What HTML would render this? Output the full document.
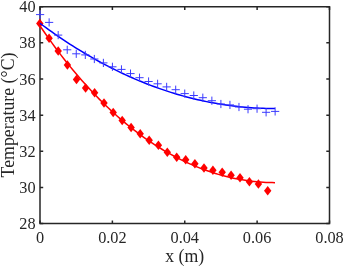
<!DOCTYPE html>
<html><head><meta charset="utf-8"><style>
html,body{margin:0;padding:0;background:#fff;width:344px;height:267px;overflow:hidden}
svg{display:block;will-change:transform}
text{font-family:"Liberation Serif",serif;fill:#262626}
</style></head><body>
<svg width="344" height="267" viewBox="0 0 344 267">
<rect width="344" height="267" fill="#fff"/>
<g stroke="#262626" stroke-width="1.5" fill="none">
<path d="M40.0,6.7 H329.5 V223.6 H40.0 Z"/>
<path d="M40.00,223.6 V220.40 M40.00,6.7 V9.90"/><path d="M112.38,223.6 V220.40 M112.38,6.7 V9.90"/><path d="M184.75,223.6 V220.40 M184.75,6.7 V9.90"/><path d="M257.12,223.6 V220.40 M257.12,6.7 V9.90"/><path d="M329.50,223.6 V220.40 M329.50,6.7 V9.90"/><path d="M40.0,223.60 H43.20 M329.5,223.60 H326.30"/><path d="M40.0,187.45 H43.20 M329.5,187.45 H326.30"/><path d="M40.0,151.30 H43.20 M329.5,151.30 H326.30"/><path d="M40.0,115.15 H43.20 M329.5,115.15 H326.30"/><path d="M40.0,79.00 H43.20 M329.5,79.00 H326.30"/><path d="M40.0,42.85 H43.20 M329.5,42.85 H326.30"/><path d="M40.0,6.70 H43.20 M329.5,6.70 H326.30"/>
</g>
<g fill="#f00" stroke="none"><path d="M39.80,18.65 L43.50,23.40 L39.80,28.15 L36.10,23.40Z"/><path d="M49.10,33.55 L52.80,38.30 L49.10,43.05 L45.40,38.30Z"/><path d="M58.20,46.25 L61.90,51.00 L58.20,55.75 L54.50,51.00Z"/><path d="M67.40,60.15 L71.10,64.90 L67.40,69.65 L63.70,64.90Z"/><path d="M76.50,74.85 L80.20,79.60 L76.50,84.35 L72.80,79.60Z"/><path d="M85.60,83.25 L89.30,88.00 L85.60,92.75 L81.90,88.00Z"/><path d="M94.60,88.10 L98.30,92.85 L94.60,97.60 L90.90,92.85Z"/><path d="M104.00,98.30 L107.70,103.05 L104.00,107.80 L100.30,103.05Z"/><path d="M113.20,107.70 L116.90,112.45 L113.20,117.20 L109.50,112.45Z"/><path d="M122.20,115.70 L125.90,120.45 L122.20,125.20 L118.50,120.45Z"/><path d="M131.10,122.80 L134.80,127.55 L131.10,132.30 L127.40,127.55Z"/><path d="M140.20,128.90 L143.90,133.65 L140.20,138.40 L136.50,133.65Z"/><path d="M149.20,135.40 L152.90,140.15 L149.20,144.90 L145.50,140.15Z"/><path d="M158.40,140.50 L162.10,145.25 L158.40,150.00 L154.70,145.25Z"/><path d="M167.30,147.60 L171.00,152.35 L167.30,157.10 L163.60,152.35Z"/><path d="M176.70,152.60 L180.40,157.35 L176.70,162.10 L173.00,157.35Z"/><path d="M185.70,155.00 L189.40,159.75 L185.70,164.50 L182.00,159.75Z"/><path d="M194.90,159.10 L198.60,163.85 L194.90,168.60 L191.20,163.85Z"/><path d="M204.00,163.20 L207.70,167.95 L204.00,172.70 L200.30,167.95Z"/><path d="M212.90,165.60 L216.60,170.35 L212.90,175.10 L209.20,170.35Z"/><path d="M222.20,167.60 L225.90,172.35 L222.20,177.10 L218.50,172.35Z"/><path d="M231.10,170.60 L234.80,175.35 L231.10,180.10 L227.40,175.35Z"/><path d="M240.00,173.00 L243.70,177.75 L240.00,182.50 L236.30,177.75Z"/><path d="M249.40,177.10 L253.10,181.85 L249.40,186.60 L245.70,181.85Z"/><path d="M258.40,179.20 L262.10,183.95 L258.40,188.70 L254.70,183.95Z"/><path d="M267.70,185.90 L271.40,190.65 L267.70,195.40 L264.00,190.65Z"/></g>
<path d="M40.00,25.88 L42.97,30.24 L45.95,34.54 L48.92,38.75 L51.90,42.88 L54.87,46.95 L57.85,50.93 L60.82,54.84 L63.80,58.68 L66.77,62.45 L69.75,66.15 L72.72,69.77 L75.70,73.33 L78.67,76.82 L81.65,80.24 L84.62,83.59 L87.59,86.87 L90.57,90.09 L93.54,93.25 L96.52,96.34 L99.49,99.36 L102.47,102.33 L105.44,105.23 L108.42,108.07 L111.39,110.84 L114.37,113.56 L117.34,116.22 L120.32,118.82 L123.29,121.35 L126.27,123.84 L129.24,126.26 L132.22,128.63 L135.19,130.94 L138.16,133.19 L141.14,135.39 L144.11,137.53 L147.09,139.62 L150.06,141.65 L153.04,143.63 L156.01,145.56 L158.99,147.44 L161.96,149.26 L164.94,151.03 L167.91,152.75 L170.89,154.41 L173.86,156.03 L176.84,157.60 L179.81,159.11 L182.78,160.58 L185.76,161.99 L188.73,163.36 L191.71,164.68 L194.68,165.95 L197.66,167.17 L200.63,168.34 L203.61,169.47 L206.58,170.55 L209.56,171.58 L212.53,172.56 L215.51,173.50 L218.48,174.39 L221.46,175.23 L224.43,176.03 L227.41,176.78 L230.38,177.49 L233.35,178.15 L236.33,178.76 L239.30,179.33 L242.28,179.85 L245.25,180.33 L248.23,180.77 L251.20,181.15 L254.18,181.50 L257.15,181.79 L260.13,182.05 L263.10,182.26 L266.08,182.42 L269.05,182.54 L272.03,182.61 L275.00,182.64" stroke="#f00" stroke-width="1.5" fill="none"/>
<path d="M40.00,23.30 L42.97,25.51 L45.95,27.69 L48.92,29.84 L51.90,31.96 L54.87,34.05 L57.85,36.10 L60.82,38.13 L63.80,40.13 L66.77,42.09 L69.75,44.03 L72.72,45.93 L75.70,47.80 L78.67,49.65 L81.65,51.46 L84.62,53.24 L87.59,55.00 L90.57,56.72 L93.54,58.42 L96.52,60.08 L99.49,61.72 L102.47,63.32 L105.44,64.90 L108.42,66.45 L111.39,67.96 L114.37,69.45 L117.34,70.91 L120.32,72.35 L123.29,73.75 L126.27,75.12 L129.24,76.47 L132.22,77.78 L135.19,79.07 L138.16,80.33 L141.14,81.56 L144.11,82.77 L147.09,83.94 L150.06,85.09 L153.04,86.21 L156.01,87.30 L158.99,88.36 L161.96,89.40 L164.94,90.41 L167.91,91.39 L170.89,92.34 L173.86,93.26 L176.84,94.16 L179.81,95.03 L182.78,95.87 L185.76,96.68 L188.73,97.47 L191.71,98.23 L194.68,98.96 L197.66,99.66 L200.63,100.34 L203.61,100.99 L206.58,101.62 L209.56,102.21 L212.53,102.78 L215.51,103.32 L218.48,103.84 L221.46,104.32 L224.43,104.79 L227.41,105.22 L230.38,105.63 L233.35,106.01 L236.33,106.36 L239.30,106.69 L242.28,106.98 L245.25,107.26 L248.23,107.50 L251.20,107.72 L254.18,107.91 L257.15,108.08 L260.13,108.22 L263.10,108.33 L266.08,108.41 L269.05,108.47 L272.03,108.50 L275.00,108.51" stroke="#00f" stroke-width="1.5" fill="none"/>
<g stroke="#3b3bff" stroke-width="1" fill="none"><path d="M36.00,14.60 H44.20 M40.10,10.50 V18.70"/><path d="M45.04,22.40 H53.24 M49.14,18.30 V26.50"/><path d="M54.08,35.10 H62.28 M58.18,31.00 V39.20"/><path d="M63.12,49.80 H71.32 M67.22,45.70 V53.90"/><path d="M72.16,53.80 H80.36 M76.26,49.70 V57.90"/><path d="M81.20,54.90 H89.40 M85.30,50.80 V59.00"/><path d="M90.24,59.00 H98.44 M94.34,54.90 V63.10"/><path d="M99.28,62.90 H107.48 M103.38,58.80 V67.00"/><path d="M108.32,66.80 H116.52 M112.42,62.70 V70.90"/><path d="M117.36,69.40 H125.56 M121.46,65.30 V73.50"/><path d="M126.40,73.60 H134.60 M130.50,69.50 V77.70"/><path d="M135.44,77.70 H143.64 M139.54,73.60 V81.80"/><path d="M144.48,81.50 H152.68 M148.58,77.40 V85.60"/><path d="M153.52,83.80 H161.72 M157.62,79.70 V87.90"/><path d="M162.56,86.90 H170.76 M166.66,82.80 V91.00"/><path d="M171.60,89.70 H179.80 M175.70,85.60 V93.80"/><path d="M180.64,93.60 H188.84 M184.74,89.50 V97.70"/><path d="M189.68,95.50 H197.88 M193.78,91.40 V99.60"/><path d="M198.72,97.70 H206.92 M202.82,93.60 V101.80"/><path d="M207.76,100.70 H215.96 M211.86,96.60 V104.80"/><path d="M216.80,104.00 H225.00 M220.90,99.90 V108.10"/><path d="M225.84,104.90 H234.04 M229.94,100.80 V109.00"/><path d="M234.88,107.00 H243.08 M238.98,102.90 V111.10"/><path d="M243.92,109.20 H252.12 M248.02,105.10 V113.30"/><path d="M252.96,108.70 H261.16 M257.06,104.60 V112.80"/><path d="M262.00,112.30 H270.20 M266.10,108.20 V116.40"/><path d="M271.04,111.40 H279.24 M275.14,107.30 V115.50"/></g>
<g font-size="16.3"><text x="40.00" y="242.6" text-anchor="middle">0</text><text x="112.38" y="242.6" text-anchor="middle">0.02</text><text x="184.75" y="242.6" text-anchor="middle">0.04</text><text x="257.12" y="242.6" text-anchor="middle">0.06</text><text x="329.50" y="242.6" text-anchor="middle">0.08</text><text x="35.6" y="229.10" text-anchor="end">28</text><text x="35.6" y="192.95" text-anchor="end">30</text><text x="35.6" y="156.80" text-anchor="end">32</text><text x="35.6" y="120.65" text-anchor="end">34</text><text x="35.6" y="84.50" text-anchor="end">36</text><text x="35.6" y="48.35" text-anchor="end">38</text><text x="35.6" y="12.20" text-anchor="end">40</text></g>
<text x="184.7" y="262.2" font-size="17.8" text-anchor="middle">x (m)</text>
<text transform="translate(13.9,115) rotate(-90)" font-size="17.8" text-anchor="middle">Temperature (°C)</text>
</svg>
</body></html>
